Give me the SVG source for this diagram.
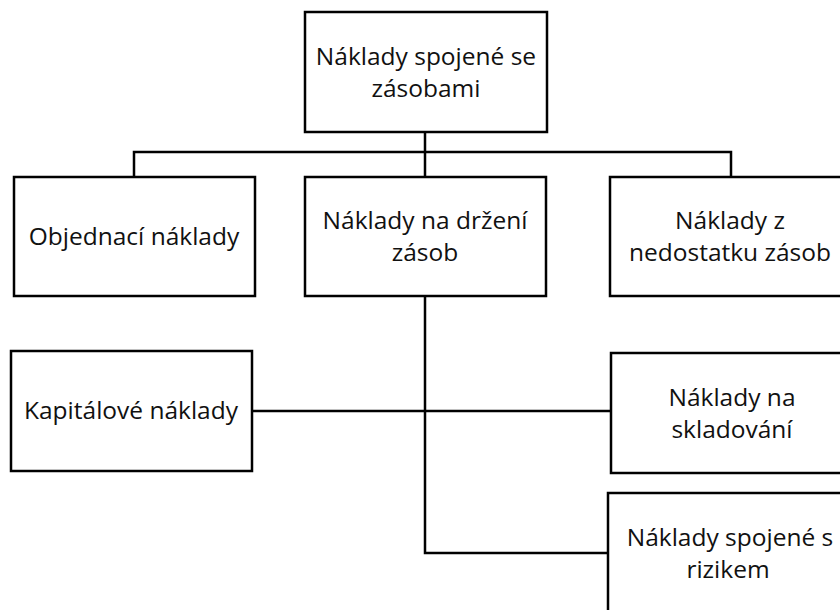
<svg xmlns="http://www.w3.org/2000/svg" width="840" height="610" viewBox="0 0 840 610">
<style>
.box{fill:#fff;stroke:#000;stroke-width:2.5}
.c{fill:none;stroke:#000;stroke-width:2.5}
text{font-family:"Open Sans","Liberation Sans",sans-serif;font-size:24.5px;fill:#111;text-anchor:middle}
</style>
<rect width="840" height="610" fill="#fff"/>
<g id="connectors">
<path class="c" d="M425,132 V152 M134,177 V152 H731 V177 M425,152 V177"/>
<path class="c" d="M425,296 V553 H608 M252,411 H611"/>
</g>
<g id="n-root"><rect class="box" x="305" y="12" width="242" height="120"/><text x="426" y="65">Náklady spojené se</text><text x="426" y="97">zásobami</text></g>
<g id="n-objednaci"><rect class="box" x="14" y="177" width="241" height="119"/><text x="134" y="245">Objednací náklady</text></g>
<g id="n-drzeni"><rect class="box" x="305" y="177" width="241" height="119"/><text x="425" y="229">Náklady na držení</text><text x="425" y="261">zásob</text></g>
<g id="n-nedostatek"><rect class="box" x="610" y="177" width="240" height="119"/><text x="730" y="229">Náklady z</text><text x="730" y="261">nedostatku zásob</text></g>
<g id="n-kapital"><rect class="box" x="11" y="351" width="241" height="120"/><text x="131" y="419">Kapitálové náklady</text></g>
<g id="n-sklad"><rect class="box" x="611" y="353" width="240" height="120"/><text x="732" y="406">Náklady na</text><text x="732" y="438">skladování</text></g>
<g id="n-riziko"><rect class="box" x="608" y="493" width="240" height="130"/><text x="730" y="546">Náklady spojené s</text><text x="728" y="578">rizikem</text></g>
</svg>
